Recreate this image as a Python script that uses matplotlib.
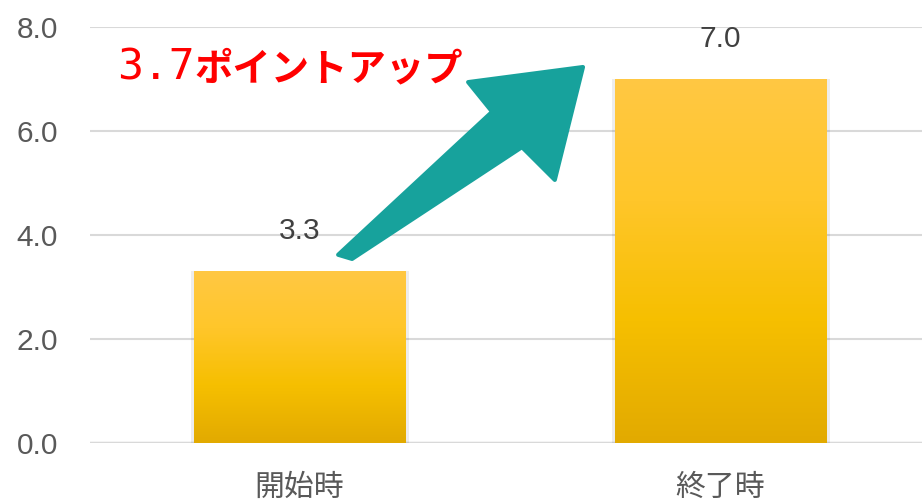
import numpy as np
import matplotlib.pyplot as plt
from matplotlib.colors import LinearSegmentedColormap
from matplotlib.patches import Polygon

categories = ["開始時", "終了時"]
values = [3.3, 7.0]
value_labels = ["3.3", "7.0"]
yticks = [0.0, 2.0, 4.0, 6.0, 8.0]
callout_num = "3.7"
callout_txt = "ポイントアップ"

# hand drawn arrow outline, data coords (x = category index, y = value)
arrow_x = [0.092, 0.458, 0.401, 0.674, 0.607, 0.529, 0.125]
arrow_y = [3.62, 6.37, 6.94, 7.23, 5.06, 5.69, 3.54]

plt.rcParams['font.family'] = ['Liberation Sans', 'DejaVu Sans']

fig = plt.figure(figsize=(9.22, 5.04), dpi=100)
ax = fig.add_axes([90/922, 1 - 443/504, 1 - 90/922, 416/504])

grad = LinearSegmentedColormap.from_list("bar", ["#e2aa00", "#f6bf00", "#ffc62a", "#ffc843"])
x = np.arange(len(categories))
bars = ax.bar(x, values, width=0.502, color="none", zorder=3)
g = np.linspace(0, 1, 256).reshape(-1, 1)
for b in bars:
    bx, by = b.get_x(), b.get_y()
    w, h = b.get_width(), b.get_height()
    # faint side shadow
    ax.add_patch(plt.Rectangle((bx - 0.006, by), w + 0.016, h, color="#000000", alpha=0.07, zorder=2, lw=0))
    im = ax.imshow(g, cmap=grad, origin="lower", extent=[bx, bx + w, by, by + h], aspect="auto", zorder=3)
    im.set_clip_path(b)

for xi, v, lab in zip(x, values, value_labels):
    ax.text(xi, v + 0.50, lab, ha="center", va="bottom", fontsize=21.5, color="#404040")

ax.add_patch(Polygon(list(zip(arrow_x, arrow_y)), closed=True, facecolor="#17a29c",
                     edgecolor="#17a29c", lw=3, joinstyle="round", zorder=4))

ax.set_xlim(-0.498, 1.480)
ax.set_ylim(0, 8)
ax.set_yticks(yticks)
ax.set_yticklabels([f"{t:.1f}" for t in yticks], fontsize=21.5, color="#595959")
ax.set_xticks(x)
ax.set_xticklabels(categories, fontsize=21.5, color="#595959", family=['Noto Sans CJK JP'])
ax.tick_params(axis="both", length=0)
ax.tick_params(axis="y", pad=23)
ax.tick_params(axis="x", pad=21)
for s in ax.spines.values():
    s.set_visible(False)
ax.grid(axis="y", color="#d9d9d9", lw=1.5, zorder=0)
ax.set_axisbelow(True)
ax.axhline(0, color="#d9d9d9", lw=2.5, zorder=1)

fig.text(117/922, 1 - 80/504, callout_num, fontsize=31, color="#ff0000",
         family=['DejaVu Sans Mono'], va="baseline", ha="left")
fig.text(194/922, 1 - 80/504, callout_txt, fontsize=27.6, color="#ff0000", fontweight="bold",
         family=['Noto Sans CJK JP'], va="baseline", ha="left")

fig.savefig("out.png", dpi=100)
